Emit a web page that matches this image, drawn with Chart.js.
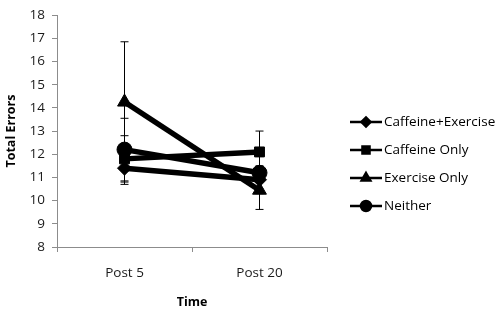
<!DOCTYPE html>
<html><head><meta charset="utf-8">
<script src="https://cdn.jsdelivr.net/npm/chart.js@4"></script>
<style>html,body{margin:0;padding:0;background:#fff}#wrap{width:503px;height:314px;position:relative}</style>
</head><body><div id="wrap"><canvas id="c" width="503" height="314"></canvas></div>
<script>
const categories = ["Post 5", "Post 20"];
const seriesNames = ["Caffeine+Exercise", "Caffeine Only", "Exercise Only", "Neither"];
const caffeineExercise = [11.4, 10.9];
const caffeineOnly = [11.8, 12.1];
const exerciseOnly = [14.25, 10.45];
const neither = [12.2, 11.2];
const errCaffeineExercise = [0.7, 0.6];
const errCaffeineOnly = [1.0, 0.9];
const errExerciseOnly = [2.6, 0.83];
const errNeither = [1.35, 0.7];
const yTicks = [8, 9, 10, 11, 12, 13, 14, 15, 16, 17, 18];

const values = [caffeineExercise, caffeineOnly, exerciseOnly, neither];
const errors = [errCaffeineExercise, errCaffeineOnly, errExerciseOnly, errNeither];
const styles = ["rectRot", "rect", "triangle", "circle"];
const radii = [7, 7, 8, 7.5];
const legendRadii = [4.5, 5, 5, 5];
const FONT = "'Open Sans', 'Liberation Sans', sans-serif";

const errorBars = {
  id: 'errorBars',
  beforeDatasetsDraw(chart) {
    const ctx = chart.ctx, y = chart.scales.y;
    ctx.save();
    ctx.strokeStyle = '#000'; ctx.lineWidth = 1;
    chart.data.datasets.forEach((ds, i) => {
      const meta = chart.getDatasetMeta(i);
      meta.data.forEach((pt, j) => {
        const e = errors[i][j], v = ds.data[j];
        const yt = y.getPixelForValue(v + e), yb = y.getPixelForValue(v - e);
        ctx.beginPath();
        ctx.moveTo(pt.x, yt); ctx.lineTo(pt.x, yb);
        ctx.moveTo(pt.x - 4, yt); ctx.lineTo(pt.x + 4, yt);
        ctx.moveTo(pt.x - 4, yb); ctx.lineTo(pt.x + 4, yb);
        ctx.stroke();
      });
    });
    ctx.restore();
  }
};

const legendPlugin = {
  id: 'sideLegend',
  afterDraw(chart) {
    const ctx = chart.ctx;
    ctx.save();
    chart.data.datasets.forEach((ds, i) => {
      const yy = 122 + i * 28;
      ctx.strokeStyle = '#000'; ctx.lineWidth = 2.5;
      ctx.beginPath(); ctx.moveTo(350, yy); ctx.lineTo(382, yy); ctx.stroke();
      Chart.helpers.drawPoint(ctx, {pointStyle: styles[i], radius: legendRadii[i], borderWidth: 1}, 366, yy);
      ctx.fillStyle = '#000';
      ctx.font = '13.5px ' + FONT;
      ctx.textBaseline = 'middle'; ctx.textAlign = 'left';
      ctx.fillText(ds.label, 384, yy);
    });
    ctx.restore();
  }
};

Chart.defaults.font.family = FONT;
Chart.defaults.color = '#000';

new Chart(document.getElementById('c'), {
  type: 'line',
  data: {
    labels: categories,
    datasets: seriesNames.map((n, i) => ({
      label: n,
      data: values[i],
      borderColor: '#000',
      backgroundColor: '#000',
      borderWidth: 5.5,
      pointStyle: styles[i],
      pointRadius: radii[i],
      pointBorderWidth: 1,
      pointBackgroundColor: '#000',
      pointBorderColor: '#000',
      tension: 0
    }))
  },
  options: {
    responsive: false,
    animation: false,
    devicePixelRatio: 1,
    layout: { padding: { left: 0, right: 176, top: 8, bottom: 0 } },
    plugins: { legend: { display: false }, tooltip: { enabled: false } },
    scales: {
      x: {
        offset: true,
        grid: { display: true, drawOnChartArea: false, drawTicks: true, tickLength: 5, color: '#8c8c8c', offset: true },
        border: { color: '#8c8c8c', width: 1 },
        ticks: { padding: 13, font: { size: 13.5 }, color: '#1a1a1a' },
        title: { display: true, text: 'Time', font: { size: 12.5, weight: 'bold' }, color: '#000', padding: { top: 4, bottom: 4 } },
        afterFit(s) { s.height = 67; }
      },
      y: {
        min: 8, max: 18,
        afterBuildTicks(s) { s.ticks = yTicks.map(v => ({ value: v })); },
        grid: { display: true, drawOnChartArea: false, drawTicks: true, tickLength: 5, color: '#8c8c8c' },
        border: { color: '#8c8c8c', width: 1 },
        ticks: { padding: 7, font: { size: 13.5 }, color: '#1a1a1a' },
        title: { display: true, text: 'Total Errors', font: { size: 12.5, weight: 'bold' }, color: '#000', padding: { top: 4, bottom: 4 } },
        afterFit(s) { s.width = 57; }
      }
    }
  },
  plugins: [errorBars, legendPlugin]
});
</script></body></html>
